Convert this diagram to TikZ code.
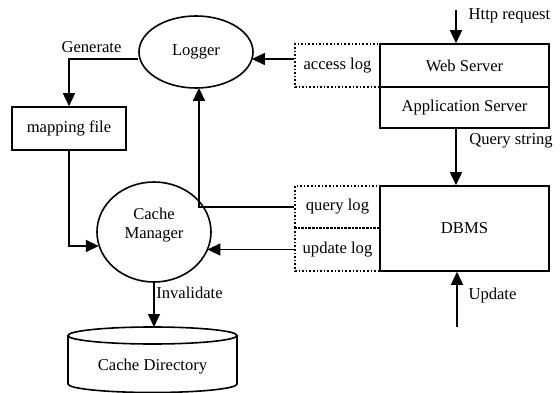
\documentclass[tikz,border=0pt]{standalone}
\usepackage{fontspec}
\setmainfont{Liberation Serif}
\usetikzlibrary{shapes.geometric,arrows.meta,calc}
\begin{document}
\begin{tikzpicture}[x=1pt,y=-1pt,
  font=\fontsize{16.6}{19}\selectfont,
  line width=1.6pt,
  arr/.style={-{Triangle[length=13pt,width=12pt]}},
  solidbox/.style={draw,rectangle,inner sep=0pt},
  logbox/.style={draw,rectangle,dotted,inner sep=0pt,minimum width=85pt},
  oval/.style={draw,ellipse,inner sep=0pt},
  lbl/.style={inner sep=0pt}]
\useasboundingbox (0,0) rectangle (560,393);

% processes
\node[oval,minimum width=114pt,minimum height=72pt] (logger) at (196,52) {Logger};
\node[oval,minimum width=114pt,minimum height=100pt] (cm) at (154,232) {};
\node[lbl,align=center] (cmtext) at (154,225) {Cache\\Manager};

% files and servers
\node[solidbox,minimum width=114pt,minimum height=43pt] (map) at (69,128.5) {mapping file};
\node[solidbox,minimum width=169pt,minimum height=43pt] (web) at (464.5,65.5) {Web Server};
\node[solidbox,minimum width=169pt,minimum height=41pt] (app) at (464.5,107.5) {Application Server};
\node[solidbox,minimum width=169pt,minimum height=85pt] (dbms) at (464.5,228.5) {DBMS};
\node[logbox,minimum height=43pt] (acc) at (337.5,65.5) {access log};
\node[logbox,minimum height=42pt] (ql) at (337.5,207) {query log};
\node[logbox,minimum height=43pt] (ul) at (337.5,249.5) {update log};

% cache directory drum
\draw (68,335.5) -- (68,384) arc[start angle=180,end angle=360,x radius=84.5,y radius=-8.5]
      -- (237,335.5);
\draw (152.5,335.5) ellipse[x radius=84.5,y radius=8.5];
\node[lbl] (cdir) at (152.5,367) {Cache Directory};
\coordinate (cdtop) at (154,327);

% external inputs
\coordinate (http) at (456,10);
\coordinate (upd) at (457,327);

% connectors
\draw[arr] (http) -- (http |- web.north);
\draw[arr] (app.south -| 456,0) -- (dbms.north -| 456,0);
\draw[arr] (upd) -- (upd |- dbms.south);
\draw[arr] (acc.west |- 0,59) -- ($(logger.center)+(55.9,7)$);
\draw[arr] (logger.west |- 0,59) -| (map.north);
\draw[arr] (map.south) |- ($(cm.center)+(-55.2,14)$);
\draw[arr] (ql.west) -| ($(logger.center)+(3,35.9)$);
\draw[arr] (ul.west) -- ($(cm.center)+(53.4,17.5)$);
\draw[arr] (cm.south) -- (cdtop);

% labels
\node[lbl] (lgen) at (91.5,47) {Generate};
\node[lbl] (lhttp) at (509.5,16) {Http request};
\node[lbl] (lqs) at (511,141) {Query string};
\node[lbl] (lupd) at (492.5,296) {Update};
\node[lbl] (linv) at (189.5,293) {Invalidate};
\end{tikzpicture}
\end{document}
